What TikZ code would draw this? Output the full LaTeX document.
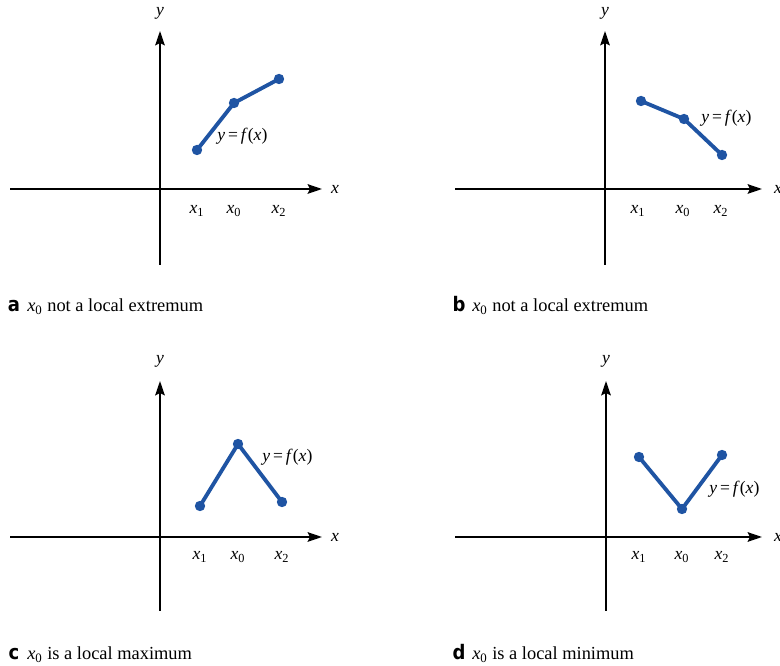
\documentclass[tikz,border=0pt]{standalone}
\usepackage{fontspec}
\setmainfont{Liberation Serif}
\newfontfamily\tagfont{DejaVu Sans Condensed}
\usetikzlibrary{arrows.meta}
\definecolor{fblue}{RGB}{31,84,163}
\newcommand{\vr}[1]{\textit{#1}}
\newcommand{\idx}[1]{\textsubscript{#1}}
\newcommand{\fxlabel}{\vr{y}\,=\,\vr{f}(\vr{x})}

\begin{document}
\begin{tikzpicture}[
x=0.625pt, y=-0.625pt,
font=\fontsize{11}{13}\selectfont,
axis/.style = {draw, line width=1.2pt,
               -{Stealth[length=9pt, width=6pt, inset=1.5pt]}},
curve/.style = {draw=fblue, line width=2.4pt},
dot/.style = {circle, fill=fblue, inner sep=0pt, minimum size=6.5pt},
lbl/.style = {inner sep=1pt},
fx/.style = {anchor=west, inner sep=0pt},
caption/.style = {anchor=base west, inner sep=0pt,
                  font=\fontsize{11.5}{13}\selectfont},
tag/.style = {anchor=base, inner sep=0pt,
              font=\fontsize{12.5}{13}\tagfont\bfseries}
                ]
\useasboundingbox (0,0) rectangle (780,666);

%% a
\begin{scope}
\coordinate (a-xl) at (10,189);  \coordinate (a-xr) at (322,189);
\coordinate (a-yb) at (160,265); \coordinate (a-yt) at (160,31);
\draw [axis] (a-xl) -- (a-xr);
\draw [axis] (a-yb) -- (a-yt);
\node (a-x) [lbl] at (335,189) {\vr{x}};
\node (a-y) [lbl] at (160,13) {\vr{y}};
\node (a1) [dot] at (197,150) {};
\node (a0) [dot] at (234,103) {};
\node (a2) [dot] at (279,79) {};
\draw [curve] (a1.center) -- (a0.center) -- (a2.center);
\node (a-f) [fx] at (217,136) {\fxlabel};
\node (a-t1) [lbl] at (197,211) {\vr{x}\idx{1}};
\node (a-t0) [lbl] at (234,211) {\vr{x}\idx{0}};
\node (a-t2) [lbl] at (279,211) {\vr{x}\idx{2}};
\node (a-tag) [tag] at (14,312) {a};
\node (a-cap) [caption] at (27,312) {\vr{x}\idx{0} not a local extremum};
\end{scope}

%% b
\begin{scope}[shift={(445,0)}]
\coordinate (b-xl) at (10,189);  \coordinate (b-xr) at (317,189);
\coordinate (b-yb) at (160,265); \coordinate (b-yt) at (160,31);
\draw [axis] (b-xl) -- (b-xr);
\draw [axis] (b-yb) -- (b-yt);
\node (b-x) [lbl] at (333,189) {\vr{x}};
\node (b-y) [lbl] at (160,13) {\vr{y}};
\node (b1) [dot] at (196,101) {};
\node (b0) [dot] at (239,119) {};
\node (b2) [dot] at (277,155) {};
\draw [curve] (b1.center) -- (b0.center) -- (b2.center);
\node (b-f) [fx] at (256,118) {\fxlabel};
\node (b-t1) [lbl] at (193,211) {\vr{x}\idx{1}};
\node (b-t0) [lbl] at (238,211) {\vr{x}\idx{0}};
\node (b-t2) [lbl] at (276,211) {\vr{x}\idx{2}};
\node (b-tag) [tag] at (14,312) {b};
\node (b-cap) [caption] at (27,312) {\vr{x}\idx{0} not a local extremum};
\end{scope}

%% c
\begin{scope}[shift={(0,348)}]
\coordinate (c-xl) at (10,189);  \coordinate (c-xr) at (322,189);
\coordinate (c-yb) at (160,263); \coordinate (c-yt) at (160,33);
\draw [axis] (c-xl) -- (c-xr);
\draw [axis] (c-yb) -- (c-yt);
\node (c-x) [lbl] at (335,189) {\vr{x}};
\node (c-y) [lbl] at (160,13) {\vr{y}};
\node (c1) [dot] at (200,158) {};
\node (c0) [dot] at (238,96) {};
\node (c2) [dot] at (282,154) {};
\draw [curve] (c1.center) -- (c0.center) -- (c2.center);
\node (c-f) [fx] at (262,109) {\fxlabel};
\node (c-t1) [lbl] at (200,209) {\vr{x}\idx{1}};
\node (c-t0) [lbl] at (238,209) {\vr{x}\idx{0}};
\node (c-t2) [lbl] at (282,209) {\vr{x}\idx{2}};
\node (c-tag) [tag] at (14,312) {c};
\node (c-cap) [caption] at (27,312) {\vr{x}\idx{0} is a local maximum};
\end{scope}

%% d
\begin{scope}[shift={(446,348)}]
\coordinate (d-xl) at (9,189);   \coordinate (d-xr) at (316,189);
\coordinate (d-yb) at (160,263); \coordinate (d-yt) at (160,33);
\draw [axis] (d-xl) -- (d-xr);
\draw [axis] (d-yb) -- (d-yt);
\node (d-x) [lbl] at (332,189) {\vr{x}};
\node (d-y) [lbl] at (160,13) {\vr{y}};
\node (d1) [dot] at (193,109) {};
\node (d0) [dot] at (236,161) {};
\node (d2) [dot] at (276,107) {};
\draw [curve] (d1.center) -- (d0.center) -- (d2.center);
\node (d-f) [fx] at (263,141) {\fxlabel};
\node (d-t1) [lbl] at (193,209) {\vr{x}\idx{1}};
\node (d-t0) [lbl] at (236,209) {\vr{x}\idx{0}};
\node (d-t2) [lbl] at (276,209) {\vr{x}\idx{2}};
\node (d-tag) [tag] at (13,312) {d};
\node (d-cap) [caption] at (26,312) {\vr{x}\idx{0} is a local minimum};
\end{scope}
\end{tikzpicture}
\end{document}
